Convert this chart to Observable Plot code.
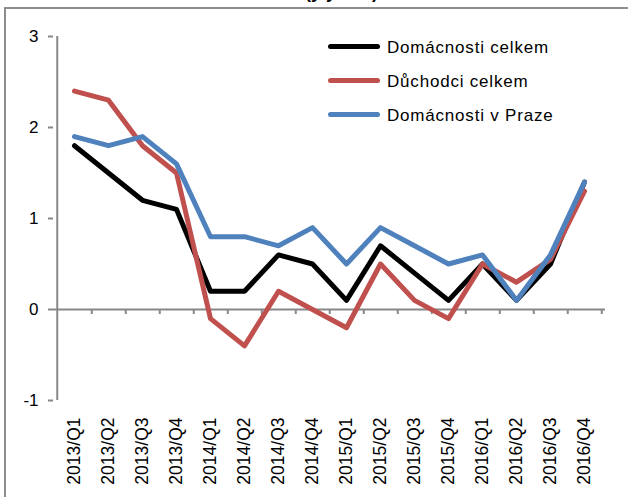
<!DOCTYPE html>
<html><head><meta charset="utf-8">
<script src="https://cdn.jsdelivr.net/npm/d3@7"></script>
<script src="https://cdn.jsdelivr.net/npm/@observablehq/plot@0.6"></script>
<style>
html,body{margin:0;padding:0;background:#fff;overflow:hidden;}
#wrap{position:relative;width:628px;height:497px;overflow:hidden;font-family:"Liberation Sans",Arial,sans-serif;background:#fff;}
#title{position:absolute;left:137px;top:-18px;font-size:18px;font-weight:bold;line-height:20px;white-space:nowrap;color:#000;}
#frame{position:absolute;left:4px;top:7px;width:700px;height:600px;border:2px solid #8c8c8c;box-sizing:border-box;}
#chart{position:absolute;left:0;top:0;}
#legend{position:absolute;left:328px;top:29px;font-size:17px;letter-spacing:0.8px;color:#000;}
.item{height:34px;display:flex;align-items:center;}
.sw{width:52px;height:5px;border-radius:3px;margin-right:7px;flex:none;}
.lt{position:relative;top:2px;white-space:nowrap;}
</style></head><body>
<div id="wrap"><div id="frame"></div><div id="title">Inflace domácností (y/y v %)</div><div id="chart"></div><div id="legend"></div></div>
<script>
const quarters = ["2013/Q1","2013/Q2","2013/Q3","2013/Q4","2014/Q1","2014/Q2","2014/Q3","2014/Q4","2015/Q1","2015/Q2","2015/Q3","2015/Q4","2016/Q1","2016/Q2","2016/Q3","2016/Q4"];
const domacnostiCelkem = [1.8,1.5,1.2,1.1,0.2,0.2,0.6,0.5,0.1,0.7,0.4,0.1,0.5,0.1,0.5,1.4];
const duchodciCelkem = [2.4,2.3,1.8,1.5,-0.1,-0.4,0.2,0.0,-0.2,0.5,0.1,-0.1,0.5,0.3,0.55,1.3];
const domacnostiPraha = [1.9,1.8,1.9,1.6,0.8,0.8,0.7,0.9,0.5,0.9,0.7,0.5,0.6,0.1,0.6,1.4];
const seriesNames = ["Domácnosti celkem","Důchodci celkem","Domácnosti v Praze"];
const seriesColors = ["#000000","#C0504D","#4F81BD"];
const yTicks = [-1,0,1,2,3];

const seriesValues = [domacnostiCelkem, duchodciCelkem, domacnostiPraha];
const axisGray = "#878787";
const mLeft = 53, mRight = 23, W = 628, H = 497;
const half = (W - mLeft - mRight) / quarters.length / 2;

const lineMarks = seriesValues.map((vals, s) =>
  Plot.line(quarters.map((q, i) => ({q, v: vals[i]})), {
    x: "q", y: "v", stroke: seriesColors[s], strokeWidth: 5,
    strokeLinejoin: "round", strokeLinecap: "round"
  })
);

const chart = Plot.plot({
  width: W, height: H,
  marginLeft: mLeft, marginRight: mRight, marginTop: 36, marginBottom: 97,
  style: {fontFamily: "Liberation Sans, Arial, sans-serif", fontSize: "17px", background: "transparent", overflow: "visible", color: "#000"},
  x: {type: "point", domain: quarters, padding: 0.5, label: null},
  y: {domain: [-1, 3], label: null},
  marks: [
    Plot.ruleX([quarters[0]], {x: d => d, dx: -half, y1: -1, y2: 3, stroke: axisGray, strokeWidth: 2}),
    Plot.ruleY([0], {stroke: axisGray, strokeWidth: 2}),
    Plot.ruleX(quarters, {x: d => d, dx: half, y1: 0, y2: -0.055, stroke: axisGray, strokeWidth: 2}),
    Plot.axisY(yTicks, {tickSize: 5, tickPadding: 10, stroke: axisGray, strokeWidth: 2, fill: "#000", label: null, tickFormat: d => d < 0 ? "-" + Math.abs(d) : String(d)}),
    Plot.axisX(quarters, {tickSize: 0, tickRotate: -90, tickPadding: 17, fill: "#000", label: null, fontSize: 17.5}),
    ...lineMarks
  ]
});
document.getElementById("chart").appendChild(chart);

const legend = document.getElementById("legend");
seriesNames.forEach((name, i) => {
  const it = document.createElement("div");
  it.className = "item";
  const sw = document.createElement("div");
  sw.className = "sw";
  sw.style.background = seriesColors[i];
  const t = document.createElement("span");
  t.className = "lt";
  t.textContent = name;
  it.appendChild(sw); it.appendChild(t);
  legend.appendChild(it);
});
</script>
</body></html>
